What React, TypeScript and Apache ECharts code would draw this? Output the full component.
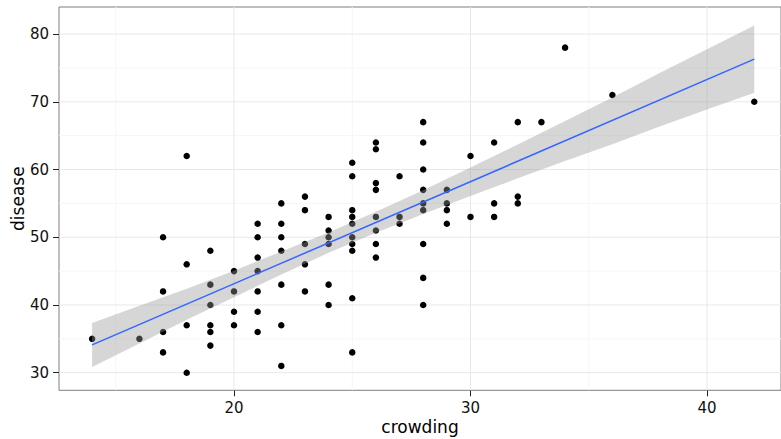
import React, { useEffect, useRef } from "react";
import * as echarts from "echarts";

// Observed data: crowding (x) and disease (y)
const crowding = [
  14, 16, 17, 17, 17, 17, 18, 18, 18, 18, 19, 19, 19, 19, 19, 19, 20, 20, 20, 20,
  21, 21, 21, 21, 21, 21, 21, 22, 22, 22, 22, 22, 22, 22, 23, 23, 23, 23, 23,
  24, 24, 24, 24, 24, 24, 25, 25, 25, 25, 25, 25, 25, 25, 25, 25,
  26, 26, 26, 26, 26, 26, 26, 26, 27, 27, 27, 28, 28, 28, 28, 28, 28, 28, 28, 28,
  29, 29, 29, 29, 30, 30, 31, 31, 31, 32, 32, 32, 33, 34, 36, 42,
];
const disease = [
  35, 35, 50, 42, 36, 33, 62, 46, 37, 30, 48, 43, 40, 37, 36, 34, 45, 42, 39, 37,
  52, 50, 47, 45, 42, 39, 36, 55, 52, 50, 48, 43, 37, 31, 56, 54, 49, 46, 42,
  53, 51, 50, 49, 43, 40, 61, 59, 54, 53, 52, 50, 49, 48, 41, 33,
  64, 63, 58, 57, 53, 51, 49, 47, 59, 53, 52, 67, 64, 60, 57, 55, 54, 49, 44, 40,
  57, 55, 54, 52, 62, 53, 64, 55, 53, 67, 56, 55, 67, 78, 71, 70,
];

// Fitted line endpoints
const fitX = [14, 42];
const fitY = [34.1, 76.3];

// Confidence band
const bandX = [14, 16, 18, 20, 22, 24, 26, 28, 30, 32, 34, 36, 38, 40, 42];
const bandLower = [30.85, 34.3, 37.8, 41.15, 44.5, 47.7, 50.65, 53.45, 56.1, 58.7, 61.25, 63.75, 66.35, 68.85, 71.35];
const bandUpper = [37.35, 39.9, 42.4, 45.05, 47.9, 50.7, 53.75, 56.95, 60.3, 63.7, 67.15, 70.65, 74.25, 77.75, 81.25];

// Ticks and grid lines
const xTicks = [20, 30, 40];
const xMinor = [15, 25, 35];
const yTicks = [30, 40, 50, 60, 70, 80];
const yMinor = [35, 45, 55, 65, 75];

const X_MIN = 12.6;
const X_MAX = 43.13;
const Y_MIN = 27.4;
const Y_MAX = 84.0;

const FONT = "'DejaVu Sans', 'Liberation Sans', Arial, sans-serif";

function gridSeries(values: number[], vertical: boolean, color: string, width: number) {
  return {
    type: "custom",
    silent: true,
    z: 1,
    data: values.map((v) => (vertical ? [v, Y_MIN] : [X_MIN, v])),
    renderItem: (params: any, api: any) => {
      const cs = params.coordSys;
      const p = api.coord([api.value(0), api.value(1)]);
      const shape = vertical
        ? { x1: p[0], y1: cs.y, x2: p[0], y2: cs.y + cs.height }
        : { x1: cs.x, y1: p[1], x2: cs.x + cs.width, y2: p[1] };
      return { type: "line", shape, style: { stroke: color, lineWidth: width } };
    },
  };
}

export default function App() {
  const ref = useRef<HTMLDivElement>(null);
  useEffect(() => {
    if (!ref.current) return;
    const chart = echarts.init(ref.current, undefined, { renderer: "svg" });
    const points = crowding.map((x, i) => [x, disease[i]]);
    chart.setOption({
      animation: false,
      backgroundColor: "#ffffff",
      grid: {
        left: 59,
        right: 0,
        top: 7,
        bottom: 48.7,
        show: true,
        outerBoundsMode: "none",
        containLabel: false,
        borderColor: "#7f7f7f",
        borderWidth: 1,
        backgroundColor: "#ffffff",
      },
      xAxis: {
        type: "value",
        min: X_MIN,
        max: X_MAX,
        name: "crowding",
        nameLocation: "middle",
        nameGap: 28,
        nameMoveOverlap: false,
        nameTextStyle: { fontFamily: FONT, fontSize: 17, color: "#000" },
        axisLine: { show: false },
        splitLine: { show: false },
        axisTick: { show: true, length: 6, customValues: xTicks, lineStyle: { color: "#222", width: 1 } },
        axisLabel: { customValues: xTicks, margin: 10, fontFamily: FONT, fontSize: 15, color: "#111" },
      },
      yAxis: {
        type: "value",
        min: Y_MIN,
        max: Y_MAX,
        name: "disease",
        nameLocation: "middle",
        nameGap: 33,
        nameMoveOverlap: false,
        nameTextStyle: { fontFamily: FONT, fontSize: 17, color: "#000" },
        axisLine: { show: false },
        splitLine: { show: false },
        axisTick: { show: true, length: 6, customValues: yTicks, lineStyle: { color: "#222", width: 1 } },
        axisLabel: { customValues: yTicks, margin: 10, fontFamily: FONT, fontSize: 15, color: "#111" },
      },
      series: [
        gridSeries(xMinor, true, "#f6f6f6", 1),
        gridSeries(yMinor, false, "#f6f6f6", 1),
        gridSeries(xTicks, true, "#e8e8e8", 1),
        gridSeries(yTicks, false, "#e8e8e8", 1),
        {
          type: "scatter",
          data: points,
          symbol: "circle",
          symbolSize: 6.5,
          itemStyle: { color: "#000000", opacity: 1 },
          z: 2,
        },
        {
          type: "custom",
          silent: true,
          z: 3,
          data: [[bandX[0], bandLower[0]]],
          renderItem: (params: any, api: any) => {
            const pts: number[][] = [];
            for (let i = 0; i < bandX.length; i++) pts.push(api.coord([bandX[i], bandUpper[i]]));
            for (let i = bandX.length - 1; i >= 0; i--) pts.push(api.coord([bandX[i], bandLower[i]]));
            return {
              type: "polygon",
              shape: { points: pts },
              style: { fill: "rgba(153,153,153,0.4)", stroke: "none" },
            };
          },
        },
        {
          type: "line",
          data: fitX.map((x, i) => [x, fitY[i]]),
          showSymbol: false,
          symbol: "none",
          lineStyle: { color: "#3366FF", width: 1.5 },
          z: 4,
        },
      ],
    });
    return () => chart.dispose();
  }, []);
  return (
    <div
      ref={ref}
      style={{ position: "fixed", left: 0, top: 0, width: 781, height: 439 }}
    />
  );
}
